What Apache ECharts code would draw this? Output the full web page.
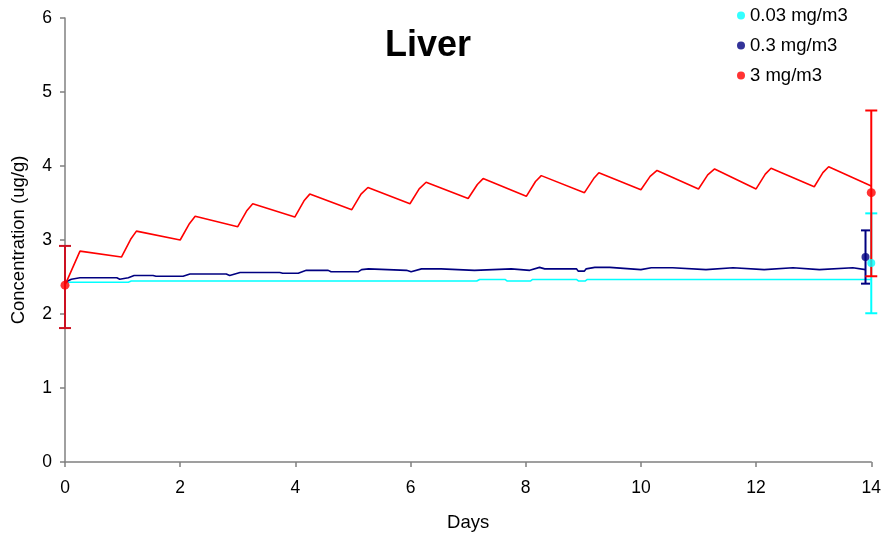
<!DOCTYPE html>
<html>
<head>
<meta charset="utf-8">
<script src="https://cdn.jsdelivr.net/npm/echarts@6/dist/echarts.min.js"></script>
<style>
html,body{margin:0;padding:0;background:#fff;}
#chart{width:884px;height:537px;}
</style>
</head>
<body>
<div id="chart"></div>
<script>
// ---- Data ----
const seriesNames = ['0.03 mg/m3', '0.3 mg/m3', '3 mg/m3'];
const seriesColors = ['#00ffff', '#000080', '#ff0000'];

// Model curves (days, concentration ug/g)
const cyanDays = [0, 1.1, 1.15, 7.15, 7.2, 7.64, 7.68, 8.08, 8.12, 8.88, 8.92, 9.03, 9.07, 14.0];
const cyanConc = [2.43, 2.43, 2.445, 2.445, 2.467, 2.467, 2.445, 2.445, 2.467, 2.467, 2.445, 2.445, 2.467, 2.467];

const navyDays = [0, 0.11, 0.26, 0.9, 0.95, 1.1, 1.2, 1.53, 1.58, 2.05, 2.17, 2.8, 2.86, 3.04, 3.73, 3.78, 4.05, 4.19, 4.57, 4.62,
  5.09, 5.15, 5.27, 5.3, 5.93, 5.96, 6.01, 6.19, 6.53, 6.56, 7.11, 7.14, 7.75, 7.78, 8.07, 8.1, 8.24, 8.33, 8.88, 8.91,
  9.02, 9.05, 9.2, 9.46, 9.49, 10.0, 10.18, 10.55, 10.58, 11.13, 11.16, 11.6, 11.63, 12.14, 12.17, 12.64, 12.67, 13.1, 13.13, 13.68, 13.71, 13.9];
const navyConc = [2.43, 2.47, 2.49, 2.49, 2.47, 2.49, 2.52, 2.52, 2.51, 2.51, 2.54, 2.54, 2.52, 2.56, 2.56, 2.55, 2.55, 2.59, 2.59, 2.57,
  2.57, 2.60, 2.61, 2.59, 2.59, 2.565, 2.57, 2.61, 2.61, 2.59, 2.59, 2.61, 2.61, 2.59, 2.59, 2.61, 2.63, 2.61, 2.61, 2.58,
  2.58, 2.61, 2.63, 2.63, 2.61, 2.60, 2.625, 2.625, 2.60, 2.60, 2.625, 2.625, 2.60, 2.60, 2.625, 2.625, 2.60, 2.60, 2.625, 2.625, 2.60, 2.60];

const redDays = [0, 0.26, 0.98, 1.14, 1.24, 2.0, 2.16, 2.26, 3.0, 3.16, 3.26, 3.99, 4.15, 4.25, 4.98, 5.14, 5.26, 5.99, 6.15, 6.27,
  7.0, 7.16, 7.26, 8.01, 8.17, 8.27, 9.02, 9.18, 9.27, 10.0, 10.16, 10.28, 11.0, 11.16, 11.28, 12.0, 12.16, 12.26, 13.01, 13.16, 13.26, 14.0];
const redConc = [2.39, 2.85, 2.77, 3.01, 3.12, 3.00, 3.22, 3.32, 3.18, 3.40, 3.49, 3.31, 3.53, 3.62, 3.41, 3.62, 3.71, 3.49, 3.69, 3.78,
  3.56, 3.75, 3.83, 3.59, 3.79, 3.87, 3.64, 3.83, 3.91, 3.68, 3.86, 3.94, 3.69, 3.88, 3.96, 3.69, 3.89, 3.97, 3.72, 3.91, 3.99, 3.73];

// Measured points: day, mean, low, high
const cyanObsDay = [14.0];
const cyanObsMean = [2.69];
const cyanObsLow = [2.01];
const cyanObsHigh = [3.36];

const navyObsDay = [13.9];
const navyObsMean = [2.77];
const navyObsLow = [2.41];
const navyObsHigh = [3.13];

const redObsDay = [0, 14.0];
const redObsMean = [2.39, 3.64];
const redObsLow = [1.81, 2.51];
const redObsHigh = [2.92, 4.75];
const redBarColors = ['#cc1122', '#ff0000'];

// ---- Build series ----
const zip = (a, b) => a.map((v, i) => [v, b[i]]);
const errData = (d, lo, hi) => d.map((v, i) => [v, lo[i], hi[i], i]);

function errRender(capHalf, colors) {
  return function (params, api) {
    const x = api.value(0), lo = api.value(1), hi = api.value(2), idx = api.value(3);
    const pLo = api.coord([x, lo]);
    const pHi = api.coord([x, hi]);
    const col = Array.isArray(colors) ? colors[idx] : colors;
    const style = { stroke: col, lineWidth: 2 };
    return {
      type: 'group',
      children: [
        { type: 'line', shape: { x1: pLo[0], y1: pLo[1], x2: pHi[0], y2: pHi[1] }, style: style },
        { type: 'line', shape: { x1: pLo[0] - capHalf, y1: pLo[1], x2: pLo[0] + capHalf, y2: pLo[1] }, style: style },
        { type: 'line', shape: { x1: pHi[0] - capHalf, y1: pHi[1], x2: pHi[0] + capHalf, y2: pHi[1] }, style: style }
      ]
    };
  };
}

const FONT = "'Liberation Sans', Arial, Helvetica, sans-serif";

const option = {
  backgroundColor: '#ffffff',
  animation: false,
  title: {
    text: 'Liver',
    left: 385,
    top: 28,
    padding: 0,
    textStyle: { fontFamily: FONT, fontSize: 36, fontWeight: 'bold', color: '#000' }
  },
  legend: {
    orient: 'vertical',
    left: 737,
    top: 6,
    padding: 0,
    itemGap: 11,
    itemWidth: 8,
    itemHeight: 8,
    icon: 'circle',
    data: seriesNames,
    textStyle: { fontFamily: FONT, fontSize: 18.5, color: '#000' }
  },
  grid: { left: 65, right: 12, top: 18, bottom: 73.5, containLabel: false },
  xAxis: {
    type: 'value',
    min: 0, max: 14, interval: 2,
    name: 'Days',
    nameLocation: 'middle',
    nameGap: 51,
    nameTextStyle: { fontFamily: FONT, fontSize: 18.5, color: '#000' },
    axisLine: { show: true, lineStyle: { color: '#808080', width: 1.5 } },
    axisTick: { show: true, inside: false, length: 5, lineStyle: { color: '#808080', width: 1.5 } },
    axisLabel: { fontFamily: FONT, fontSize: 17.5, color: '#000', margin: 17 },
    splitLine: { show: false }
  },
  yAxis: {
    type: 'value',
    min: 0, max: 6, interval: 1,
    name: 'Concentration (ug/g)',
    nameLocation: 'middle',
    nameGap: 37,
    nameTextStyle: { fontFamily: FONT, fontSize: 18.5, color: '#000' },
    axisLine: { show: true, lineStyle: { color: '#808080', width: 1.5 } },
    axisTick: { show: true, inside: false, length: 5, lineStyle: { color: '#808080', width: 1.5 } },
    axisLabel: { fontFamily: FONT, fontSize: 17.5, color: '#000', margin: 13 },
    splitLine: { show: false }
  },
  series: [
    { name: 'model 0.03', type: 'line', data: zip(cyanDays, cyanConc), showSymbol: false, symbol: 'none',
      lineStyle: { color: seriesColors[0], width: 1.6 }, z: 2 },
    { name: 'model 0.3', type: 'line', data: zip(navyDays, navyConc), showSymbol: false, symbol: 'none',
      lineStyle: { color: seriesColors[1], width: 1.6 }, z: 2 },
    { name: 'model 3', type: 'line', data: zip(redDays, redConc), showSymbol: false, symbol: 'none',
      lineStyle: { color: seriesColors[2], width: 1.6 }, z: 2 },
    { name: 'err 0.03', type: 'custom', renderItem: errRender(6, seriesColors[0]), clip: false,
      data: errData(cyanObsDay, cyanObsLow, cyanObsHigh), encode: { x: 0, y: [1, 2] }, z: 3 },
    { name: 'err 0.3', type: 'custom', renderItem: errRender(4.5, seriesColors[1]), clip: false,
      data: errData(navyObsDay, navyObsLow, navyObsHigh), encode: { x: 0, y: [1, 2] }, z: 3 },
    { name: 'err 3', type: 'custom', renderItem: errRender(6, redBarColors), clip: false,
      data: errData(redObsDay, redObsLow, redObsHigh), encode: { x: 0, y: [1, 2] }, z: 4 },
    { name: seriesNames[1], type: 'scatter', data: zip(navyObsDay, navyObsMean), symbol: 'circle', symbolSize: 8,
      itemStyle: { color: seriesColors[1] }, clip: false, z: 5 },
    { name: seriesNames[2], type: 'scatter', data: zip(redObsDay, redObsMean), symbol: 'circle', symbolSize: 9,
      itemStyle: { color: seriesColors[2] }, clip: false, z: 5 },
    { name: seriesNames[0], type: 'scatter', data: zip(cyanObsDay, cyanObsMean), symbol: 'circle', symbolSize: 8,
      itemStyle: { color: seriesColors[0] }, clip: false, z: 6 }
  ]
};

const chart = echarts.init(document.getElementById('chart'), null, { renderer: 'canvas' });
chart.setOption(option);
</script>
</body>
</html>
